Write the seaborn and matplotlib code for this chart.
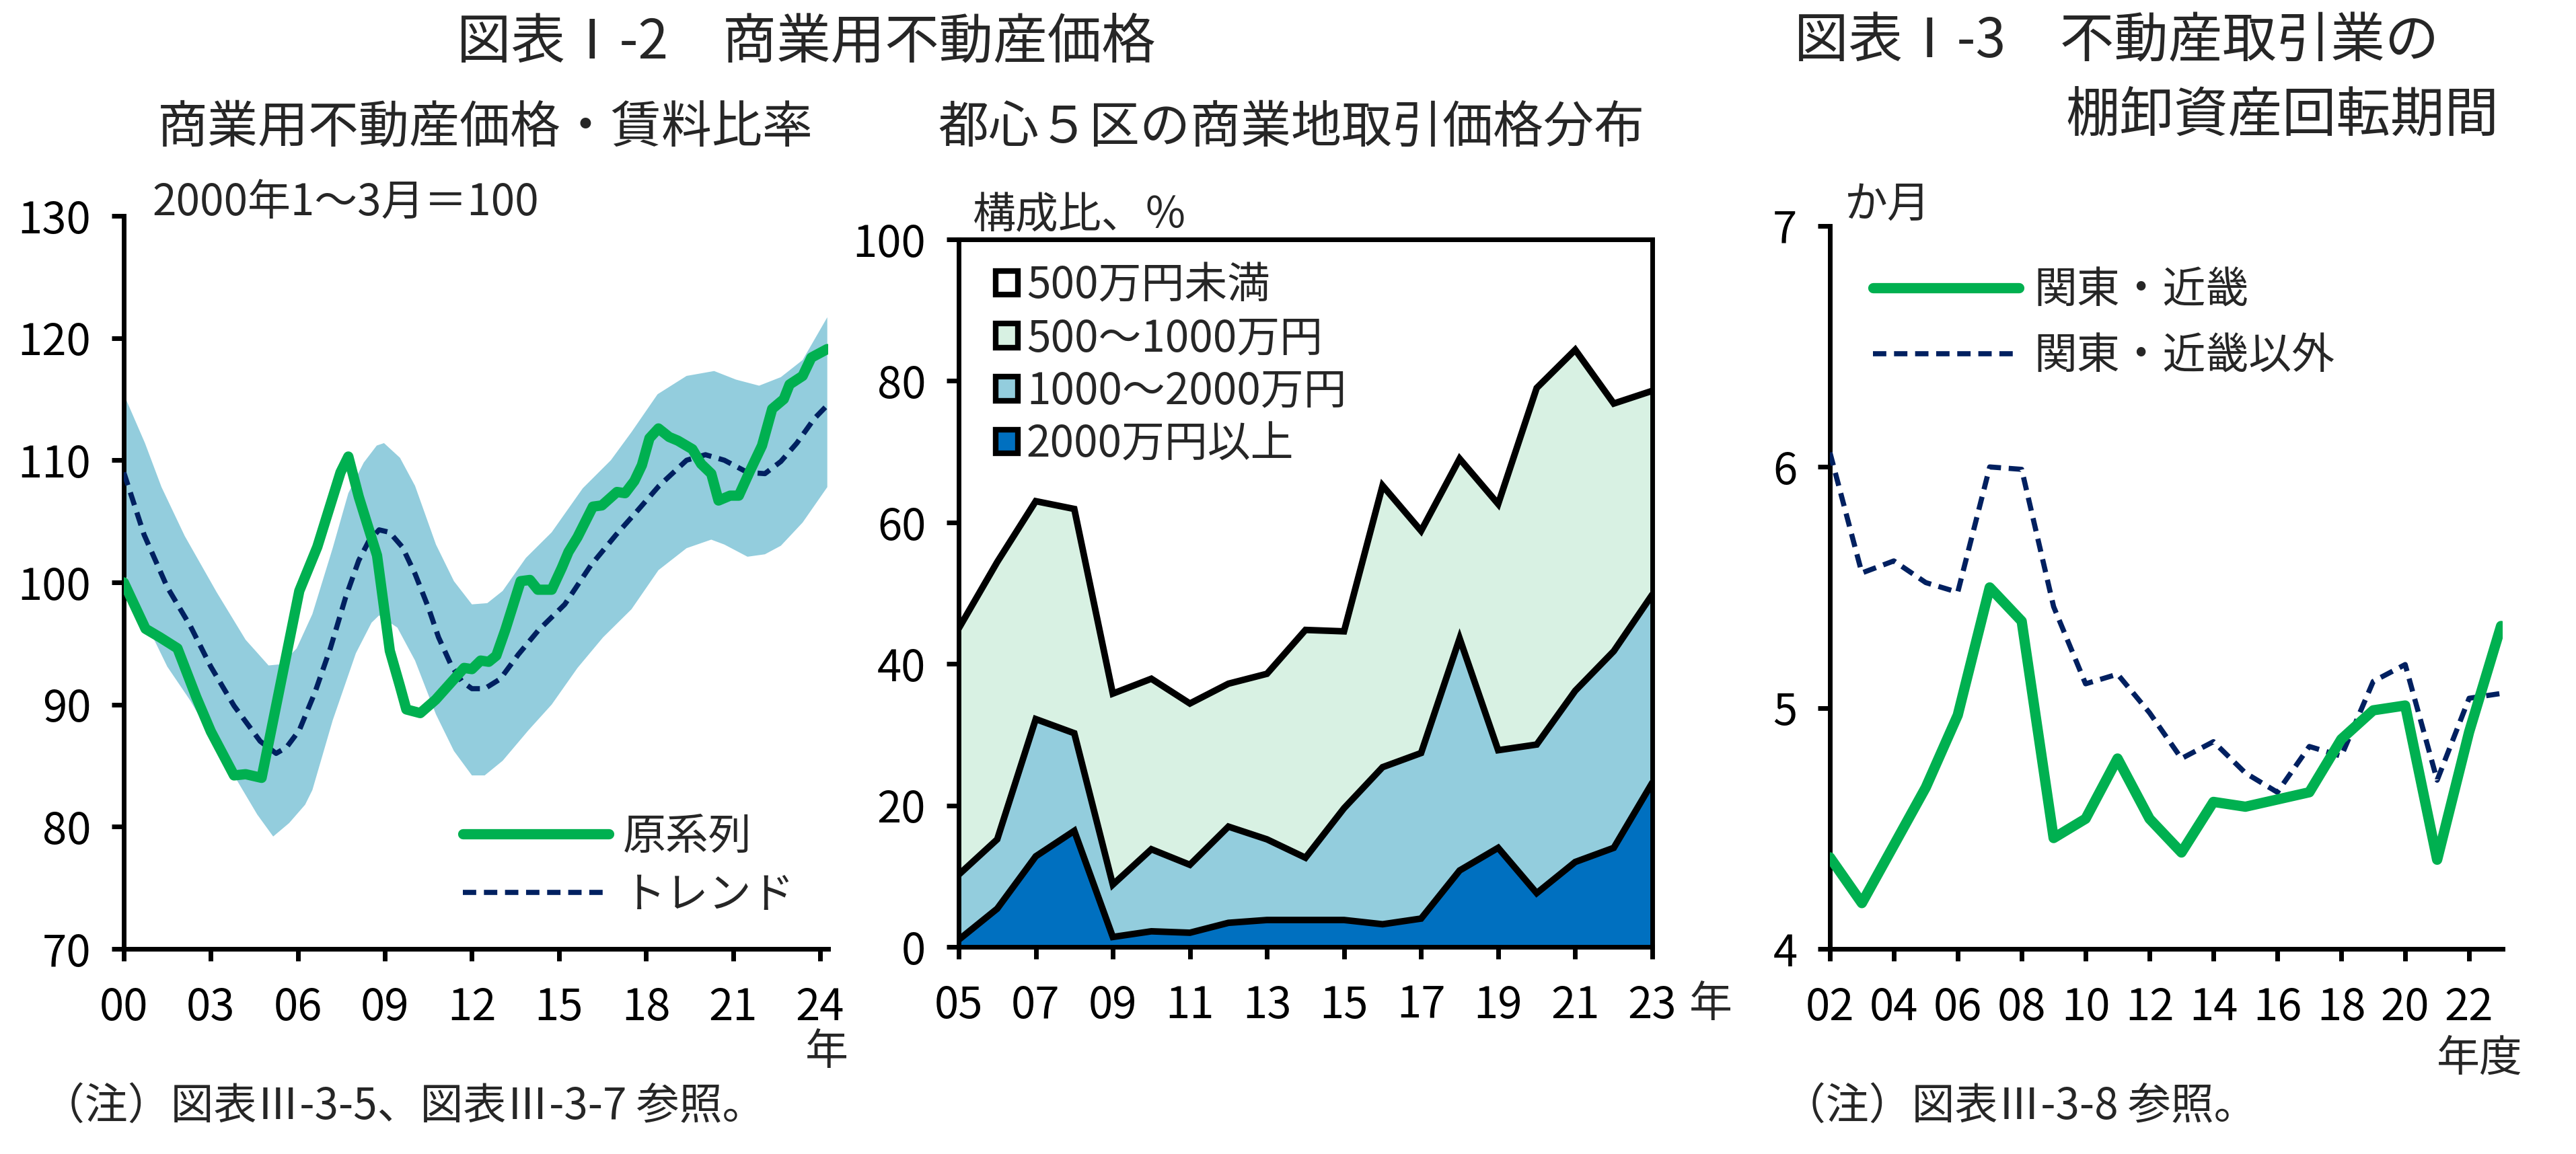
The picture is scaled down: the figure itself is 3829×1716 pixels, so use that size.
import numpy as np
import pandas as pd
import matplotlib
matplotlib.use("Agg")
import matplotlib.pyplot as plt
from matplotlib.patches import Patch
from matplotlib.lines import Line2D
import seaborn as sns

sns.set_theme(style="white")
plt.rcParams['font.family'] = ['Noto Sans CJK JP', 'DejaVu Sans']
plt.rcParams['axes.unicode_minus'] = False

# ---------------- data: chart 1 (commercial property price / rent ratio) ----------------
gen_t = [2000.0, 2000.75, 2001.25, 2001.85, 2002.5, 2003.0, 2003.8, 2004.2, 2004.75, 2006.05,
         2006.67, 2007.47, 2007.74, 2008.1, 2008.73, 2009.17, 2009.52, 2009.74, 2010.22, 2010.75,
         2011.73, 2012.0, 2012.3, 2012.58, 2012.84, 2013.15, 2013.68, 2014.0, 2014.27, 2014.75,
         2015.1, 2015.33, 2015.64, 2016.17, 2016.48, 2017.0, 2017.28, 2017.6, 2017.86, 2018.12,
         2018.43, 2018.8, 2019.1, 2019.6, 2019.9, 2020.25, 2020.5, 2020.9, 2021.2, 2021.6,
         2022.0, 2022.35, 2022.75, 2022.95, 2023.4, 2023.7, 2024.25]
gen_v = [100.0, 96.2, 95.5, 94.6, 90.6, 87.8, 84.2, 84.3, 84.0, 99.3,
         102.9, 109.0, 110.3, 107.0, 102.2, 94.4, 91.5, 89.6, 89.3, 90.4,
         93.0, 92.9, 93.6, 93.5, 94.0, 96.1, 100.1, 100.2, 99.4, 99.4,
         101.2, 102.5, 103.7, 106.2, 106.3, 107.4, 107.3, 108.3, 109.6, 111.8,
         112.6, 111.9, 111.6, 110.9, 109.7, 108.9, 106.7, 107.1, 107.1, 109.2,
         111.2, 114.2, 115.0, 116.2, 116.9, 118.4, 119.1]

trend_t = [2000.0, 2000.7, 2001.5, 2002.3, 2003.0, 2003.8, 2004.7, 2005.25, 2005.61, 2006.05,
           2006.59, 2007.12, 2007.65, 2008.1, 2008.45, 2008.8, 2009.16, 2009.6, 2010.04, 2010.49,
           2010.85, 2011.29, 2011.65, 2012.0, 2012.44, 2012.98, 2013.6, 2014.3, 2015.2, 2016.1,
           2016.97, 2017.68, 2018.45, 2019.4, 2020.05, 2020.7, 2021.5, 2022.1, 2022.65, 2023.2,
           2023.8, 2024.25]
trend_v = [109.0, 103.9, 99.6, 96.4, 93.1, 89.9, 87.0, 86.0, 86.5, 87.9,
           91.0, 94.6, 98.8, 101.8, 103.4, 104.3, 104.1, 102.9, 100.7, 98.0,
           95.5, 93.2, 91.9, 91.3, 91.3, 92.1, 94.1, 96.1, 98.2, 101.4,
           103.9, 105.8, 107.9, 110.0, 110.45, 110.0, 109.0, 108.9, 109.9, 111.4,
           113.4, 114.5]

band_up_t = [2000.0, 2000.73, 2001.3, 2002.1, 2003.2, 2004.2, 2004.54, 2004.99, 2005.43, 2005.96,
             2006.5, 2007.2, 2007.74, 2008.27, 2008.72, 2008.97, 2009.52, 2010.04, 2010.76, 2011.38,
             2012.0, 2012.53, 2013.06, 2013.86, 2014.75, 2015.82, 2016.79, 2017.5, 2018.4, 2019.4,
             2020.35, 2021.1, 2021.9, 2022.65, 2023.4, 2024.25]
band_up_v = [115.4, 111.4, 107.8, 103.8, 99.2, 95.3, 94.4, 93.2, 93.3, 94.6,
             97.4, 102.8, 107.3, 109.8, 111.2, 111.4, 110.2, 107.9, 103.1, 100.1,
             98.2, 98.3, 99.3, 102.0, 104.1, 107.7, 110.0, 112.3, 115.4, 116.9,
             117.3, 116.6, 116.1, 116.8, 118.2, 121.7]
band_lo_t = [2000.0, 2000.7, 2001.5, 2002.3, 2003.0, 2003.8, 2004.6, 2005.15, 2005.7, 2006.25,
             2006.5, 2007.2, 2008.0, 2008.54, 2008.8, 2009.43, 2010.04, 2010.76, 2011.38, 2012.0,
             2012.44, 2013.06, 2013.95, 2014.75, 2015.64, 2016.52, 2017.5, 2018.43, 2019.4, 2020.25,
             2020.7, 2021.5, 2022.1, 2022.65, 2023.4, 2024.25]
band_lo_v = [101.0, 97.0, 93.1, 90.3, 87.4, 84.2, 81.0, 79.2, 80.3, 81.8,
             83.0, 88.7, 94.2, 96.7, 97.3, 96.3, 93.6, 89.2, 86.2, 84.2,
             84.2, 85.4, 87.9, 90.0, 93.0, 95.5, 97.8, 101.0, 102.8, 103.5,
             103.1, 102.1, 102.3, 103.0, 104.9, 107.8]

x1_ticks = [2000, 2003, 2006, 2009, 2012, 2015, 2018, 2021, 2024]
x1_labels = ['00', '03', '06', '09', '12', '15', '18', '21', '24']

# ---------------- data: chart 2 (price distribution, central 5 wards) ----------------
years2 = list(range(2005, 2024))
share_ge2000 = [1.0, 5.4, 12.8, 16.4, 1.4, 2.2, 2.0, 3.4, 3.8, 3.8, 3.8, 3.2, 4.0, 10.8, 14.0, 7.6, 12.0, 14.0, 23.2]
share_1000_2000 = [9.2, 9.8, 19.4, 13.8, 7.4, 11.6, 9.6, 13.6, 11.4, 8.8, 15.8, 22.2, 23.4, 32.8, 13.8, 21.0, 24.2, 27.8, 26.6]
share_500_1000 = [34.8, 39.2, 30.8, 31.7, 27.0, 24.1, 22.8, 20.2, 23.4, 32.2, 25.0, 39.8, 31.4, 25.4, 34.8, 50.4, 48.2, 35.0, 28.8]
share_lt500 = [55.0, 45.6, 37.0, 38.1, 64.2, 62.1, 65.6, 62.8, 61.4, 55.2, 55.4, 34.8, 41.2, 31.0, 37.4, 21.0, 15.6, 23.2, 21.4]
cat2 = ['500万円未満', '500～1000万円', '1000～2000万円', '2000万円以上']
x2_ticks = [2005, 2007, 2009, 2011, 2013, 2015, 2017, 2019, 2021, 2023]
x2_labels = ['05', '07', '09', '11', '13', '15', '17', '19', '21', '23']

# ---------------- data: chart 3 (inventory turnover period) ----------------
years3 = list(range(2002, 2024))
kanto_kinki = [4.38, 4.19, 4.43, 4.67, 4.97, 5.50, 5.36, 4.46, 4.54, 4.79, 4.54, 4.40, 4.61, 4.59,
               4.62, 4.65, 4.87, 4.99, 5.01, 4.37, 4.90, 5.34]
others = [6.06, 5.56, 5.61, 5.52, 5.48, 6.00, 5.99, 5.42, 5.10, 5.14, 4.98, 4.79, 4.86, 4.73,
          4.65, 4.84, 4.80, 5.11, 5.18, 4.70, 5.04, 5.06]
x3_ticks = list(range(2002, 2023, 2))
x3_labels = ['02', '04', '06', '08', '10', '12', '14', '16', '18', '20', '22']

# ---------------- styling ----------------
GREEN = '#00B050'
NAVY = '#002060'
BAND = '#93CDDD'
DBLUE = '#0070C0'
MINT = '#D8F1E3'
W, H = 3830, 1716
FS_TITLE = 58
FS_SUB = 54
FS = 46
FS_TICK = 47
FS_NOTE = 46

fig = plt.figure(figsize=(W / 100, H / 100), dpi=100)
fig.patch.set_facecolor('white')


def fx(x):
    return x / W


def fy(y):
    return 1 - y / H


def style_axes(ax, box=False):
    ax.set_facecolor('white')
    for s in ['left', 'bottom']:
        ax.spines[s].set_visible(True)
        ax.spines[s].set_color('black')
        ax.spines[s].set_linewidth(5)
    for s in ['top', 'right']:
        ax.spines[s].set_visible(box)
        ax.spines[s].set_color('black')
        ax.spines[s].set_linewidth(5)
    ax.tick_params(axis='both', which='major', direction='out', length=13, width=5,
                   color='black', labelsize=FS_TICK, labelcolor='black',
                   left=True, bottom=True)
    ax.tick_params(axis='x', pad=26)
    ax.tick_params(axis='y', pad=22)
    ax.grid(False)
    ax.set_xlabel('')
    ax.set_ylabel('')


# ---------- chart 1 ----------
ax1 = fig.add_axes([fx(184), fy(1411), fx(1231 - 184), (1411 - 321) / H])
ax1.fill(band_up_t + band_lo_t[::-1], band_up_v + band_lo_v[::-1], color=BAND, lw=0, zorder=1)
sns.lineplot(x=trend_t, y=trend_v, ax=ax1, color=NAVY, linewidth=5.5, estimator=None, sort=False, zorder=3)
ax1.lines[-1].set_linestyle((0, (2.6, 1.5)))
sns.lineplot(x=gen_t, y=gen_v, ax=ax1, color=GREEN, linewidth=11, estimator=None, sort=False, zorder=4)
ax1.lines[-1].set_solid_joinstyle('round')
ax1.set_xlim(2000, 2024.28)
ax1.set_ylim(70, 130)
ax1.set_yticks(range(70, 131, 10))
ax1.set_xticks(x1_ticks)
ax1.set_xticklabels(x1_labels)
style_axes(ax1)
h1 = [Line2D([0], [0], color=GREEN, lw=11, solid_capstyle='round'),
      Line2D([0], [0], color=NAVY, lw=5.5, linestyle=(0, (2.6, 1.5)))]
fig.legend(h1, ['原系列', 'トレンド'], loc='center left', bbox_to_anchor=(fx(688), fy(1288)),
           bbox_transform=fig.transFigure, frameon=False, fontsize=FS, handlelength=3.4,
           handletextpad=0.32, borderpad=0, borderaxespad=0, labelspacing=0.32)

# ---------- chart 2 ----------
ax2 = fig.add_axes([fx(1425), fy(1408), fx(2456 - 1425), (1408 - 356) / H])
c1 = np.array(share_ge2000)
c2 = c1 + np.array(share_1000_2000)
c3 = c2 + np.array(share_500_1000)
c4 = c3 + np.array(share_lt500)
ax2.fill_between(years2, c3, c4, color='white', lw=0, zorder=1)
ax2.fill_between(years2, c2, c3, color=MINT, lw=0, zorder=1)
ax2.fill_between(years2, c1, c2, color=BAND, lw=0, zorder=1)
ax2.fill_between(years2, 0, c1, color=DBLUE, lw=0, zorder=1)
for c in (c1, c2, c3):
    sns.lineplot(x=years2, y=c, ax=ax2, color='black', linewidth=7, estimator=None, zorder=3)
    ax2.lines[-1].set_solid_joinstyle('miter')
ax2.set_xlim(2005, 2023)
ax2.set_ylim(0, 100)
ax2.set_yticks(range(0, 101, 20))
ax2.set_xticks(x2_ticks)
ax2.set_xticklabels(x2_labels)
style_axes(ax2, box=True)
cols2 = ['white', MINT, BAND, DBLUE]
h2 = [Patch(facecolor=c, edgecolor='black', linewidth=6) for c in cols2]
fig.legend(h2, cat2, loc='center left', bbox_to_anchor=(fx(1480), fy(543)),
           bbox_transform=fig.transFigure, frameon=False, fontsize=FS, handlelength=0.52,
           handleheight=0.48, handletextpad=0.2, borderpad=0, borderaxespad=0, labelspacing=0.19)

# ---------- chart 3 ----------
ax3 = fig.add_axes([fx(2720), fy(1411), fx(1000), (1411 - 336) / H])
sns.lineplot(x=years3, y=others, ax=ax3, color=NAVY, linewidth=5.5, estimator=None, zorder=3)
ax3.lines[-1].set_linestyle((0, (2.6, 1.5)))
sns.lineplot(x=years3, y=kanto_kinki, ax=ax3, color=GREEN, linewidth=11, estimator=None, zorder=4)
ax3.set_xlim(2002, 2023.05)
ax3.set_ylim(4, 7)
ax3.set_yticks([4, 5, 6, 7])
ax3.set_xticks(x3_ticks)
ax3.set_xticklabels(x3_labels)
style_axes(ax3)
h3 = [Line2D([0], [0], color=GREEN, lw=11, solid_capstyle='round'),
      Line2D([0], [0], color=NAVY, lw=5.5, linestyle=(0, (2.6, 1.5)))]
fig.legend(h3, ['関東・近畿', '関東・近畿以外'], loc='center left', bbox_to_anchor=(fx(2784), fy(481)),
           bbox_transform=fig.transFigure, frameon=False, fontsize=FS, handlelength=3.4,
           handletextpad=0.35, borderpad=0, borderaxespad=0, labelspacing=0.49)

# ---------- texts ----------
fig.text(fx(1198), fy(63), '図表Ⅰ-2　商業用不動産価格', ha='center', va='center', fontsize=FS_TITLE)
fig.text(fx(2667), fy(62), '図表Ⅰ-3　不動産取引業の', ha='left', va='center', fontsize=FS_TITLE)
fig.text(fx(3714), fy(172), '棚卸資産回転期間', ha='right', va='center', fontsize=FS_TITLE)
fig.text(fx(721), fy(190), '商業用不動産価格・賃料比率', ha='center', va='center', fontsize=FS_SUB)
fig.text(fx(1919), fy(190), '都心５区の商業地取引価格分布', ha='center', va='center', fontsize=FS_SUB)
fig.text(fx(227), fy(302), '2000年1～3月＝100', ha='left', va='center', fontsize=FS)
fig.text(fx(1446), fy(321), '構成比、％', ha='left', va='center', fontsize=FS)
fig.text(fx(2741), fy(304), 'か月', ha='left', va='center', fontsize=FS)
fig.text(fx(1229), fy(1565), '年', ha='center', va='center', fontsize=FS)
fig.text(fx(2543), fy(1494), '年', ha='center', va='center', fontsize=FS)
fig.text(fx(3750), fy(1575), '年度', ha='right', va='center', fontsize=FS)
fig.text(fx(62), fy(1646), '（注）図表Ⅲ-3-5、図表Ⅲ-3-7 参照。', ha='left', va='center', fontsize=FS_NOTE)
fig.text(fx(2650), fy(1646), '（注）図表Ⅲ-3-8 参照。', ha='left', va='center', fontsize=FS_NOTE)

fig.savefig('out.png', dpi=100, facecolor='white')
